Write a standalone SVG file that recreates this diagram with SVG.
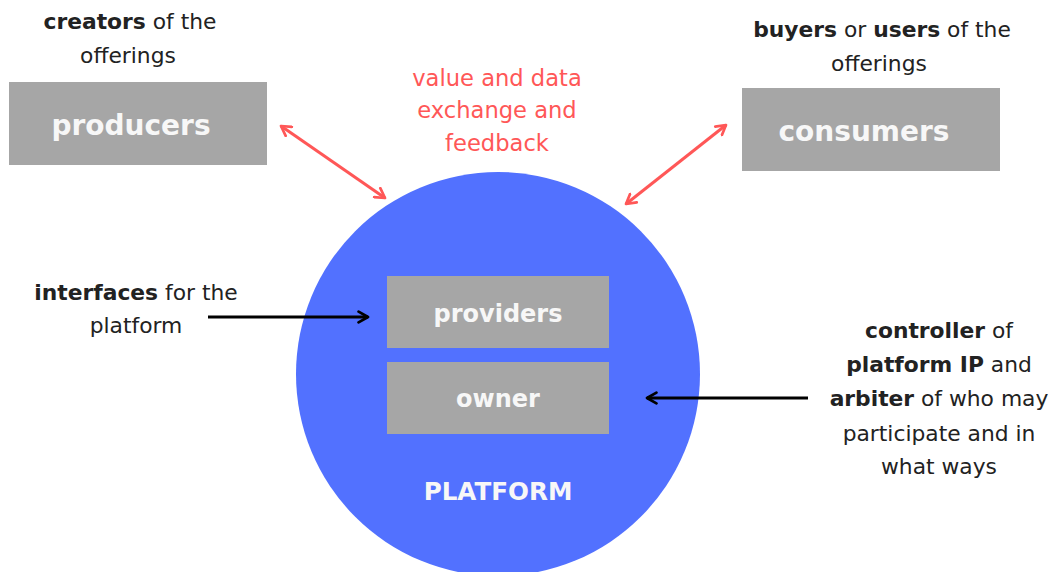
<svg xmlns="http://www.w3.org/2000/svg" width="1054" height="572" viewBox="0 0 1054 572">
<style>
text{font-family:"DejaVu Sans","Noto Sans",sans-serif;text-anchor:middle}
.lbl{font-size:21.8px;fill:#222}
.b{font-weight:bold}
.box{fill:#a6a6a6}
.bt{font-size:28px;font-weight:bold;fill:#f7f7f7}
.it{font-size:24px;font-weight:bold;fill:#f7f7f7}
.pl{font-size:24.6px;font-weight:bold;fill:#f7f7f7}
.red{font-size:22.6px;fill:#ff5757}
.ra{stroke:#ff5757;stroke-width:3;fill:none}
.ba{stroke:#000;stroke-width:3;fill:none}
</style>
<defs>
<marker id="mr" viewBox="0 0 10 10" refX="8" refY="5" markerWidth="4.5" markerHeight="4.5" orient="auto-start-reverse" markerUnits="strokeWidth"><path d="M1,1 L8,5 L1,9" fill="none" stroke="#ff5757" stroke-width="2" stroke-linecap="round" stroke-linejoin="round"/></marker>
<marker id="mb" viewBox="0 0 10 10" refX="8" refY="5" markerWidth="4.5" markerHeight="4.5" orient="auto" markerUnits="strokeWidth"><path d="M1,1 L8,5 L1,9" fill="none" stroke="#000" stroke-width="2" stroke-linecap="round" stroke-linejoin="round"/></marker>
</defs>
<rect width="1054" height="572" fill="#fff"/>
<g id="platform">
<circle cx="498" cy="374" r="202" fill="#5271ff"/>
<text class="pl" x="498" y="500">PLATFORM</text>
</g>
<g id="producers">
<rect class="box" x="9" y="82" width="258" height="83"/>
<text class="bt" x="131" y="135">producers</text>
<text class="lbl" x="130" y="29"><tspan class="b">creators</tspan> of the</text>
<text class="lbl" x="128" y="63">offerings</text>
</g>
<g id="consumers">
<rect class="box" x="742" y="88" width="258" height="83"/>
<text class="bt" x="864" y="141">consumers</text>
<text class="lbl" x="882" y="37"><tspan class="b">buyers</tspan> or <tspan class="b">users</tspan> of the</text>
<text class="lbl" x="879" y="71">offerings</text>
</g>
<g id="providers">
<rect class="box" x="387" y="276" width="222" height="72"/>
<text class="it" x="498" y="322">providers</text>
</g>
<g id="owner">
<rect class="box" x="387" y="362" width="222" height="72"/>
<text class="it" x="498" y="407">owner</text>
</g>
<g id="interfaces-label">
<text class="lbl" x="136" y="300"><tspan class="b">interfaces</tspan> for the</text>
<text class="lbl" x="136" y="333">platform</text>
</g>
<g id="controller-label">
<text class="lbl" x="939" y="338"><tspan class="b">controller</tspan> of</text>
<text class="lbl" x="939" y="372"><tspan class="b">platform IP</tspan> and</text>
<text class="lbl" x="939" y="406"><tspan class="b">arbiter</tspan> of who may</text>
<text class="lbl" x="939" y="441">participate and in</text>
<text class="lbl" x="939" y="474">what ways</text>
</g>
<g id="exchange-label">
<text class="red" x="497" y="86">value and data</text>
<text class="red" x="497" y="118">exchange and</text>
<text class="red" x="497" y="151">feedback</text>
</g>
<g id="connectors">
<line class="ra" x1="281" y1="126" x2="385" y2="198" marker-start="url(#mr)" marker-end="url(#mr)"/>
<line class="ra" x1="726" y1="125" x2="626" y2="204" marker-start="url(#mr)" marker-end="url(#mr)"/>
<line class="ba" x1="208" y1="317" x2="368" y2="317" marker-end="url(#mb)"/>
<line class="ba" x1="808" y1="398" x2="647" y2="398" marker-end="url(#mb)"/>
</g>
</svg>
